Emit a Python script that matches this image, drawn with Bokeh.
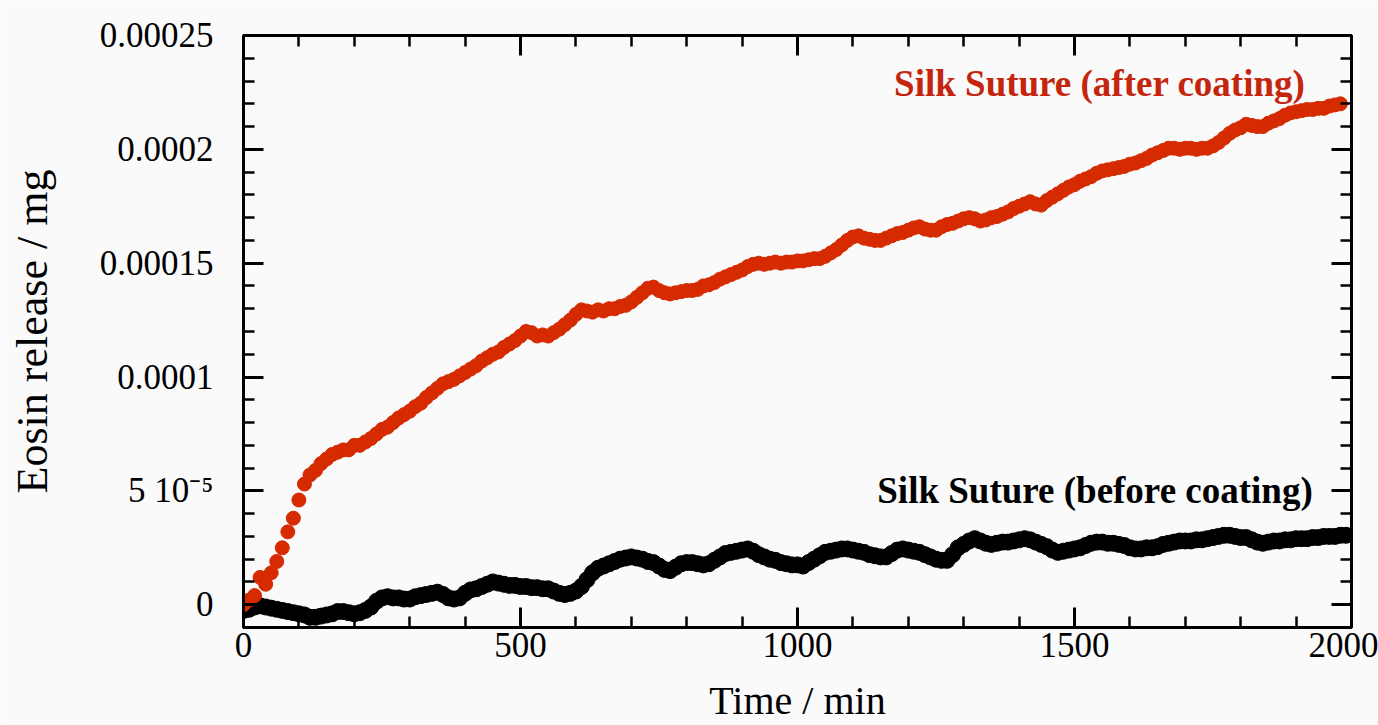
from bokeh.plotting import figure
from bokeh.models import (Range1d, SingleIntervalTicker, LinearAxis,
                          CustomJSTickFormatter, Label, ColumnDataSource)
from bokeh.embed import file_html
from bokeh.resources import INLINE

# ---------------- data ----------------
time_min = list(range(0, 2000, 10))  # sampling every 10 min

# Eosin release, in units of 1e-5 mg
after_coating_e5 = [
    0.0, 0.2, 0.4, 1.2, 0.9, 1.4, 1.9, 2.5, 3.2, 3.8,
    4.6, 5.3, 5.7, 5.9, 6.2, 6.4, 6.6, 6.7, 6.8, 6.8,
    7.0, 7.0, 7.15, 7.3, 7.5, 7.7, 7.8, 8.0, 8.2, 8.35,
    8.5, 8.7, 8.85, 9.1, 9.3, 9.5, 9.7, 9.8, 9.9, 10.05,
    10.2, 10.35, 10.5, 10.7, 10.85, 11.0, 11.1, 11.3, 11.45, 11.6,
    11.8, 12.0, 11.95, 11.8, 11.85, 11.8, 11.95, 12.1, 12.3, 12.5,
    12.75, 12.95, 12.9, 12.85, 12.95, 12.9, 13.0, 13.0, 13.1, 13.15,
    13.3, 13.5, 13.7, 13.9, 13.95, 13.8, 13.7, 13.65, 13.7, 13.75,
    13.8, 13.8, 13.85, 14.0, 14.05, 14.15, 14.3, 14.4, 14.5, 14.6,
    14.7, 14.85, 14.95, 15.0, 14.95, 15.0, 15.05, 15.0, 15.05, 15.05,
    15.1, 15.1, 15.15, 15.2, 15.2, 15.3, 15.45, 15.6, 15.8, 16.0,
    16.15, 16.2, 16.1, 16.05, 16.0, 16.0, 16.1, 16.2, 16.3, 16.35,
    16.45, 16.55, 16.6, 16.5, 16.45, 16.45, 16.6, 16.7, 16.75, 16.85,
    16.95, 17.0, 16.95, 16.85, 16.9, 17.0, 17.05, 17.15, 17.25, 17.4,
    17.5, 17.6, 17.7, 17.6, 17.55, 17.75, 17.9, 18.05, 18.2, 18.35,
    18.45, 18.6, 18.7, 18.8, 18.95, 19.05, 19.1, 19.15, 19.2, 19.25,
    19.35, 19.4, 19.5, 19.6, 19.75, 19.85, 19.95, 20.05, 20.05, 20.0,
    20.05, 20.05, 20.0, 20.05, 20.05, 20.15, 20.3, 20.5, 20.7, 20.85,
    20.95, 21.1, 21.05, 21.0, 21.0, 21.15, 21.25, 21.35, 21.5, 21.6,
    21.65, 21.7, 21.75, 21.75, 21.8, 21.8, 21.9, 21.95, 22.0,
]

before_coating_e5 = [
    -0.25, -0.2, -0.1, -0.05, -0.1, -0.15, -0.2, -0.25, -0.3, -0.35,
    -0.4, -0.45, -0.55, -0.55, -0.5, -0.45, -0.4, -0.3, -0.3, -0.35,
    -0.4, -0.35, -0.25, -0.1, 0.15, 0.3, 0.35, 0.3, 0.3, 0.25,
    0.25, 0.35, 0.4, 0.45, 0.5, 0.55, 0.45, 0.3, 0.25, 0.3,
    0.5, 0.65, 0.7, 0.8, 0.9, 1.0, 0.95, 0.9, 0.85, 0.85,
    0.8, 0.8, 0.75, 0.75, 0.7, 0.7, 0.6, 0.5, 0.45, 0.5,
    0.6, 0.8, 1.1, 1.4, 1.6, 1.7, 1.8, 1.9, 2.0, 2.05,
    2.1, 2.05, 2.0, 1.9, 1.85, 1.7, 1.55, 1.5, 1.65, 1.8,
    1.85, 1.85, 1.8, 1.75, 1.8, 1.95, 2.1, 2.25, 2.3, 2.35,
    2.4, 2.45, 2.35, 2.2, 2.1, 2.0, 1.95, 1.85, 1.8, 1.75,
    1.75, 1.7, 1.85, 2.0, 2.15, 2.3, 2.35, 2.4, 2.45, 2.45,
    2.4, 2.35, 2.3, 2.2, 2.15, 2.1, 2.1, 2.25, 2.4, 2.45,
    2.4, 2.35, 2.3, 2.2, 2.1, 2.0, 1.95, 1.95, 2.2, 2.5,
    2.65, 2.8, 2.9, 2.8, 2.7, 2.65, 2.7, 2.75, 2.75, 2.8,
    2.85, 2.9, 2.85, 2.75, 2.65, 2.55, 2.4, 2.3, 2.35, 2.4,
    2.45, 2.5, 2.6, 2.7, 2.75, 2.75, 2.7, 2.7, 2.65, 2.6,
    2.5, 2.45, 2.45, 2.5, 2.5, 2.55, 2.65, 2.7, 2.75, 2.8,
    2.8, 2.8, 2.85, 2.85, 2.9, 2.95, 3.0, 3.05, 3.05, 3.0,
    2.95, 2.95, 2.85, 2.75, 2.7, 2.75, 2.8, 2.8, 2.85, 2.85,
    2.9, 2.9, 2.9, 2.95, 2.95, 3.0, 3.0, 3.0, 3.05, 3.05,
]

y_tick_values = [0.0, 5e-5, 1e-4, 1.5e-4, 2e-4, 2.5e-4]
y_tick_labels = ["0", "5 10\u207b\u2075", "0.0001", "0.00015", "0.0002", "0.00025"]

series_names = ["Silk Suture (after coating)", "Silk Suture (before coating)"]
x_title = "Time / min"
y_title = "Eosin release / mg"

# ---------------- styling ----------------
RED = "#d62a00"
RED_TEXT = "#c4250c"
BG = "#fafafa"
FONT = "Liberation Serif"
UNIT = 1e-5

src_after = ColumnDataSource(dict(
    t=time_min[:len(after_coating_e5)],
    v=[a * UNIT for a in after_coating_e5]))
src_before = ColumnDataSource(dict(
    t=time_min[:len(before_coating_e5)],
    v=[b * UNIT for b in before_coating_e5]))

p = figure(width=1378, height=725,
           x_range=Range1d(0, 2000), y_range=Range1d(-1e-5, 2.5e-4),
           x_axis_type=None, y_axis_type=None,
           output_backend="svg", toolbar_location=None,
           min_border_left=243, min_border_right=27,
           min_border_top=35, min_border_bottom=97,
           background_fill_color=BG, border_fill_color=BG)
p.outline_line_color = "black"
p.outline_line_width = 3


def make_axis(ticker, formatter, labels=True, standoff=10):
    ax = LinearAxis(ticker=ticker, formatter=formatter,
                    axis_line_width=3, axis_line_color="black",
                    major_tick_in=20, major_tick_out=0,
                    minor_tick_in=11, minor_tick_out=0,
                    major_tick_line_width=3, minor_tick_line_width=2.5,
                    major_label_text_font=FONT,
                    major_label_text_font_size="35px" if labels else "1px",
                    major_label_text_color="black",
                    major_label_standoff=standoff if labels else 0,
                    axis_label_text_font=FONT,
                    axis_label_text_font_style="normal",
                    axis_label_text_color="black")
    return ax


x_ticker = SingleIntervalTicker(interval=500, num_minor_ticks=5)
y_ticker = SingleIntervalTicker(interval=5e-5, num_minor_ticks=5)

x_fmt = CustomJSTickFormatter(code="return String(Math.round(tick));")
y_fmt = CustomJSTickFormatter(args=dict(vals=y_tick_values, labels=y_tick_labels), code="""
for (let i = 0; i < vals.length; i++) {
  if (Math.abs(vals[i] - tick) < 1e-9) { return labels[i]; }
}
return "";
""")
blank_fmt = CustomJSTickFormatter(code="return '';")

x_axis = make_axis(x_ticker, x_fmt, True, 5)
x_axis.axis_label = x_title
x_axis.axis_label_text_font_size = "40px"
x_axis.axis_label_standoff = 18

y_axis = make_axis(y_ticker, y_fmt, True, 30)
y_axis.axis_label = y_title
y_axis.axis_label_text_font_size = "44px"
y_axis.axis_label_standoff = 40

p.add_layout(x_axis, "below")
p.add_layout(y_axis, "left")
p.add_layout(make_axis(x_ticker, blank_fmt, False), "above")
p.add_layout(make_axis(y_ticker, blank_fmt, False), "right")

p.scatter("t", "v", source=src_before, marker="circle", size=16,
          fill_color="black", line_color="black")
p.scatter("t", "v", source=src_after, marker="circle", size=14,
          fill_color=RED, line_color=RED)

p.add_layout(Label(x=1917, y=22.9e-5, text=series_names[0],
                   text_align="right", text_baseline="alphabetic",
                   text_font=FONT, text_font_style="bold",
                   text_font_size="37px", text_color=RED_TEXT))
p.add_layout(Label(x=1930, y=5.0e-5, text=series_names[1],
                   text_align="right", text_baseline="alphabetic",
                   text_font=FONT, text_font_style="bold",
                   text_font_size="37px", text_color="black"))

open("out.html", "w").write(file_html(p, INLINE))
